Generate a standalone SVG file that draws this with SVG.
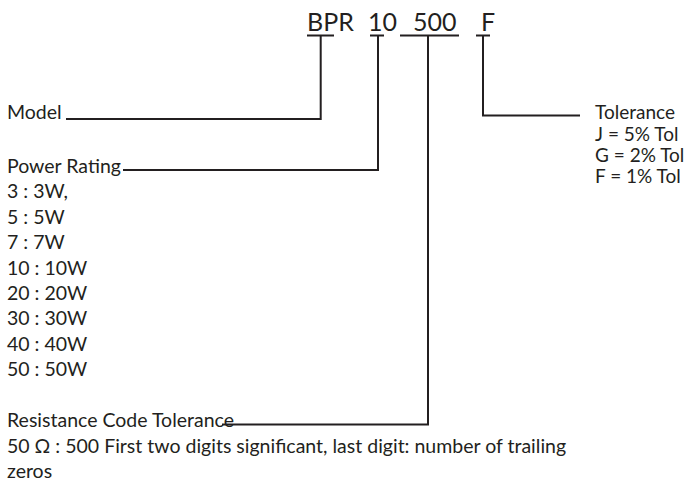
<svg xmlns="http://www.w3.org/2000/svg" width="685" height="482" viewBox="0 0 685 482">
<style>
text{font-family:Lato,"Open Sans","Liberation Sans",sans-serif;fill:#231f20;}
.t{font-size:19.5px;}
.r{font-size:19px;}
.h{font-size:25px;}
.c{fill:none;stroke:#231f20;stroke-width:2;}
</style>
<rect width="685" height="482" fill="#fff"/>
<g id="title">
<text class="h" x="307" y="31">BPR</text>
<text class="h" x="368" y="31">10</text>
<text class="h" x="413" y="31">500</text>
<text class="h" x="481" y="31">F</text>
</g>
<g id="model"><text class="t" x="7" y="119">Model</text></g>
<g id="power">
<text class="t" x="7" y="172.5">Power Rating</text>
<text class="t" x="7" y="198">3 : 3W,</text>
<text class="t" x="7" y="223.5">5 : 5W</text>
<text class="t" x="7" y="249">7 : 7W</text>
<text class="t" x="7" y="274.5">10 : 10W</text>
<text class="t" x="7" y="300">20 : 20W</text>
<text class="t" x="7" y="325">30 : 30W</text>
<text class="t" x="7" y="350.5">40 : 40W</text>
<text class="t" x="7" y="376">50 : 50W</text>
</g>
<g id="resistance">
<text class="t" x="7" y="426.5">Resistance Code Tolerance</text>
<text class="t" x="7" y="453">50 Ω : 500 First two digits significant, last digit: number of trailing</text>
<text class="t" x="7" y="478">zeros</text>
</g>
<g id="tolerance">
<text class="r" x="595" y="119">Tolerance</text>
<text class="r" x="595" y="141">J = 5% Tol</text>
<text class="r" x="595" y="162">G = 2% Tol</text>
<text class="r" x="595" y="183">F = 1% Tol</text>
</g>
<g id="connectors">
<path class="c" d="M307,35.5H334M320.7,35.5V119H66"/>
<path class="c" d="M370,35.5H384M378,35.5V170H123"/>
<path class="c" d="M400,35.5H459M428,35.5V424.5H222"/>
<path class="c" d="M476,35.5H490M483,35.5V115.5H580"/>
</g>
</svg>
